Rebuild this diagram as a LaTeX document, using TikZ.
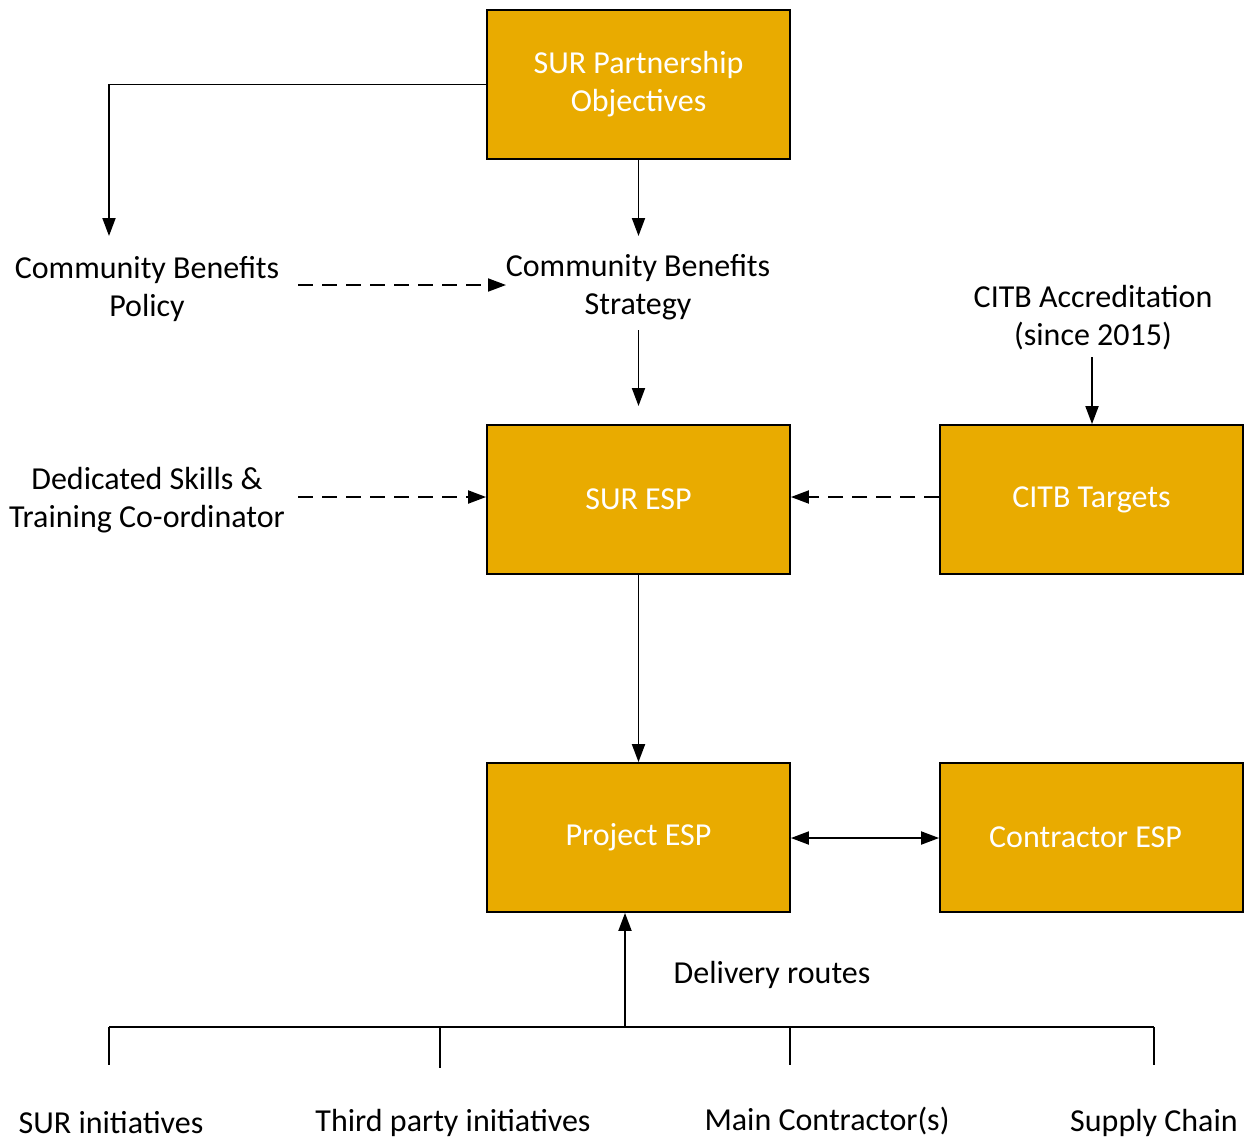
\documentclass[tikz,border=0pt]{standalone}
\usepackage{fontspec}
\setmainfont{Carlito}
\usetikzlibrary{arrows.meta}
\definecolor{boxfill}{RGB}{233,171,0}
\tikzset{
  box/.style={draw=black, line width=1.8pt, fill=boxfill, minimum width=303pt,
    minimum height=149pt, text=white, align=center, inner sep=0pt,
    font=\fontsize{32}{39}\selectfont},
  label/.style={align=center, inner sep=0pt, font=\fontsize{32}{38}\selectfont},
  link/.style={line width=1.9pt, -{Triangle[length=18pt,width=13pt]}},
  dlink/.style={link, dash pattern=on 15pt off 9pt},
  plain/.style={line width=1.9pt}
}
\begin{document}
\begin{tikzpicture}[x=1pt,y=-1pt]
\useasboundingbox (0,0) rectangle (1246,1141);

% boxes
\node[box] (obj) at (638.5,84.5) {\raisebox{-2pt}{\begin{tabular}{@{}c@{}}SUR Partnership\\[-1pt]Objectives\end{tabular}}};
\node[box] (suresp) at (638.5,499.5) {\raisebox{-2pt}{SUR ESP}};
\node[box] (citb) at (1091.5,499.5) {\raisebox{-2pt}{CITB Targets}};
\node[box] (proj) at (638.5,837.5) {\raisebox{-2pt}{Project ESP}};
\node[box] (contr) at (1091.5,837.5) {\hspace*{-12pt}\raisebox{-2pt}{Contractor ESP}};

% free-standing labels
\node[label] (policy) at (147,289.5) {Community Benefits\\Policy};
\node[label] (strategy) at (638,287.5) {Community Benefits\\Strategy};
\node[label] (accr) at (1093,317.5) {CITB Accreditation\\(since 2015)};
\node[label] (coord) at (147,500.5) {Dedicated Skills \&\\Training Co-ordinator};
\node[label] (routes) at (772,974.5) {Delivery routes};
\node[label] (surinit) at (111,1123) {SUR initiatives};
\node[label] (third) at (453,1123) {Third party initiatives};
\node[label] (mainc) at (827,1121) {Main Contractor(s)};
\node[label] (supply) at (1154,1123) {Supply Chain};

% connector end points
\coordinate (policyTop) at (109,236);
\coordinate (strategyTop) at (638.5,236);
\coordinate (policyEnd) at (298,285);
\coordinate (strategyIn) at (506,285);
\coordinate (strategyOut) at (638.5,330);
\coordinate (espIn) at (638.5,406);
\coordinate (accrOut) at (1092,357);
\coordinate (coordEnd) at (298,497);
\coordinate (busL) at (109,1027);
\coordinate (busR) at (1154,1027);
\coordinate (busUp) at (625,1027);
\coordinate (dropA) at (109,1065);
\coordinate (dropB) at (440,1068);
\coordinate (dropC) at (790,1065);
\coordinate (dropD) at (1154,1065);

% connectors
\draw[link] (obj.west |- 0,84.5) -| (policyTop);
\draw[link] (obj.south) -- (strategyTop);
\draw[dlink] (policyEnd) -- (strategyIn);
\draw[link] (strategyOut) -- (espIn);
\draw[link] (accrOut) -- (citb.north -| accrOut);
\draw[dlink] (coordEnd) -- (suresp.west |- coordEnd);
\draw[dlink] (citb.west |- 0,497) -- (suresp.east |- 0,497);
\draw[link] (suresp.south) -- (proj.north);
\draw[link, {Triangle[length=18pt,width=13pt]}-{Triangle[length=18pt,width=13pt]}] (proj.east |- 0,838) -- (contr.west |- 0,838);
\draw[link] (busUp) -- (proj.south -| busUp);
\draw[plain] (busL) -- (busR);
\draw[plain] (busL) -- (dropA);
\draw[plain] (busL -| dropB) -- (dropB);
\draw[plain] (busL -| dropC) -- (dropC);
\draw[plain] (busR) -- (dropD);
\end{tikzpicture}
\end{document}
